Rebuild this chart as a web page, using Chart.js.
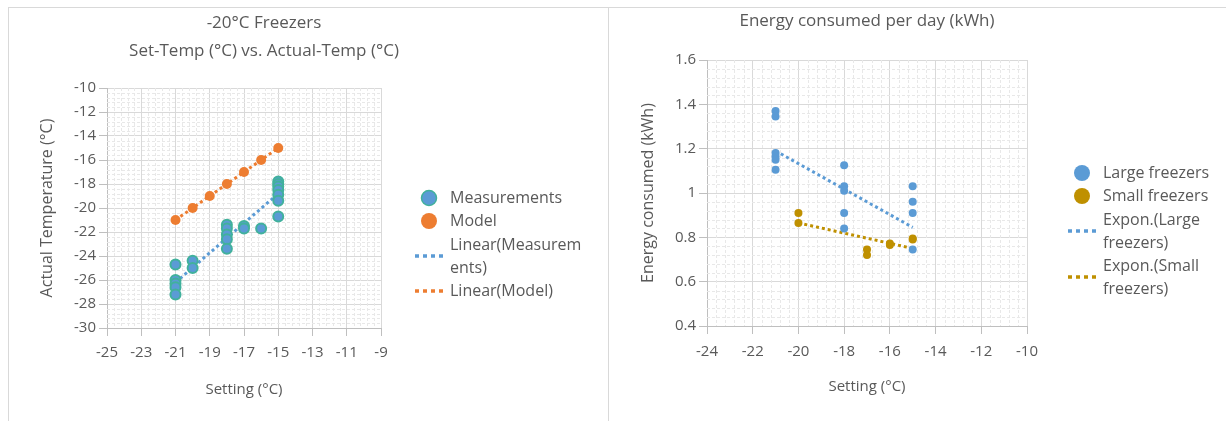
<!DOCTYPE html>
<html>
<head>
<meta charset="utf-8">
<script src="https://cdn.jsdelivr.net/npm/chart.js@4.4.1/dist/chart.umd.min.js"></script>
<style>
  body { margin: 0; background: #fff; width: 1226px; height: 421px; overflow: hidden; position: relative;
         font-family: 'Open Sans', sans-serif; color: #595959; }
  .panel { position: absolute; top: 7px; height: 414px; border-left: 1px solid #d9d9d9; border-top: 1px solid #d9d9d9; }
  #leftPanel { left: 8px; width: 599px; }
  #rightPanel { left: 608px; width: 618px; }
  canvas { position: absolute; left: 0; top: 0; }
  .title { position: absolute; left: 0; top: 0; width: 510px; text-align: center; font-size: 17px; line-height: 28px; }
  .legend { position: absolute; font-size: 16px; line-height: 23.3px; }
  .item { display: flex; align-items: center; }
  .mark { width: 28px; margin-right: 7px; display: flex; justify-content: center; align-items: center; }
  .mark svg { display: block; }
</style>
</head>
<body>
<div class="panel" id="leftPanel">
  <canvas id="tempChart" width="598" height="413"></canvas>
  <div class="title">-20°C Freezers<br>Set-Temp (°C) vs. Actual-Temp (°C)</div>
  <div class="legend" id="tempLegend" style="left:406px; top:178px"></div>
</div>
<div class="panel" id="rightPanel">
  <canvas id="energyChart" width="617" height="413"></canvas>
  <div class="legend" id="energyLegend" style="left:459px; top:153px"></div>
</div>
<script>
// left chart: set temperature vs actual temperature
const tempXTicks = [-25, -23, -21, -19, -17, -15, -13, -11, -9];
const tempYTicks = [-30, -28, -26, -24, -22, -20, -18, -16, -14, -12, -10];
const measSet = [-21, -21, -21, -21, -21, -20, -20, -18, -18, -18, -18, -18, -17, -17, -16, -15, -15, -15, -15, -15, -15, -15];
const measActual = [-24.7, -26.0, -26.3, -26.6, -27.2, -24.4, -25.0, -21.4, -21.7, -22.2, -22.6, -23.4, -21.5, -21.7, -21.7, -17.8, -18.0, -18.2, -18.5, -18.9, -19.4, -20.7];
const modelSet = [-21, -20, -19, -18, -17, -16, -15];
const modelActual = [-21, -20, -19, -18, -17, -16, -15];
const measTrendX = [-21, -15];
const measTrendY = [-26.2, -18.8];
const modelTrendX = [-21, -15];
const modelTrendY = [-21, -15];

// right chart: energy consumed per day
const energyXTicks = [-24, -22, -20, -18, -16, -14, -12, -10];
const energyYTicks = [0.4, 0.6, 0.8, 1, 1.2, 1.4, 1.6];
const largeSet = [-21, -21, -21, -21, -21, -21, -18, -18, -18, -18, -18, -15, -15, -15, -15];
const largeKwh = [1.37, 1.345, 1.18, 1.165, 1.15, 1.105, 1.125, 1.03, 1.01, 0.91, 0.84, 1.03, 0.96, 0.91, 0.745];
const smallSet = [-20, -20, -17, -17, -16, -16, -15, -15];
const smallKwh = [0.91, 0.865, 0.745, 0.72, 0.772, 0.765, 0.795, 0.79];
const largeTrendX = [-21, -15];
const largeTrendY = [1.19, 0.845];
const smallTrendX = [-20, -15];
const smallTrendY = [0.865, 0.75];

const BLUE = '#5B9BD5', TEAL = '#41B19C', ORANGE = '#ED7D31', GOLD = '#BF9000';

Chart.defaults.font.family = "'Open Sans', sans-serif";
Chart.defaults.color = '#595959';

const pts = (xs, ys) => xs.map((x, i) => ({x: x, y: ys[i]}));

function axis(ticks, title, size, tickPad, titlePad, isX) {
  return {
    type: 'linear',
    min: ticks[0],
    max: ticks[ticks.length - 1],
    afterBuildTicks: s => { s.ticks = ticks.map(v => ({value: v})); },
    afterFit: s => { if (isX) s.height = size; else s.width = size; },
    ticks: { callback: v => String(v), font: {size: 15}, padding: tickPad, autoSkip: false, maxRotation: 0 },
    grid: { color: '#d9d9d9', tickColor: '#bfbfbf', tickLength: 8 },
    border: { color: '#bfbfbf' },
    title: { display: true, text: title, font: {size: isX ? 15 : 16}, padding: titlePad }
  };
}

// light dashed minor grid, 5 divisions between major ticks
const minorGrid = {
  id: 'minorGrid',
  beforeDatasetsDraw(chart) {
    const {ctx, chartArea: a} = chart;
    ctx.save();
    ctx.strokeStyle = '#e8e8e8';
    ctx.lineWidth = 1;
    ctx.setLineDash([3, 2]);
    ['x', 'y'].forEach(id => {
      const s = chart.scales[id];
      const t = s.ticks;
      for (let i = 0; i < t.length - 1; i++) {
        for (let k = 1; k < 5; k++) {
          const v = t[i].value + (t[i + 1].value - t[i].value) * k / 5;
          const p = Math.round(s.getPixelForValue(v)) + 0.5;
          ctx.beginPath();
          if (id === 'x') { ctx.moveTo(p, a.top); ctx.lineTo(p, a.bottom); }
          else { ctx.moveTo(a.left, p); ctx.lineTo(a.right, p); }
          ctx.stroke();
        }
      }
    });
    ctx.restore();
  }
};

function dots(label, data, color, border, r) {
  return { label: label, data: data, backgroundColor: color, borderColor: border || color,
           borderWidth: border ? 2 : 0, pointRadius: r, pointHoverRadius: r };
}
function trend(label, data, color) {
  return { label: label, data: data, showLine: true, borderColor: color, borderWidth: 3,
           borderDash: [3, 3], pointRadius: 0, fill: false };
}

function buildLegend(el, items) {
  items.forEach(it => {
    const row = document.createElement('div');
    row.className = 'item';
    const svg = it.line
      ? `<svg width="28" height="6"><line x1="0" y1="3" x2="28" y2="3" stroke="${it.color}" stroke-width="3.5" stroke-dasharray="4 4"/></svg>`
      : `<svg width="18" height="18"><circle cx="9" cy="9" r="${it.border ? 7.5 : 8}" fill="${it.color}"${it.border ? ` stroke="${it.border}" stroke-width="1.5"` : ''}/></svg>`;
    row.innerHTML = `<span class="mark">${svg}</span><span>${it.text.join('<br>')}</span>`;
    el.appendChild(row);
  });
}

new Chart(document.querySelector('#tempChart').getContext('2d'), {
  type: 'scatter',
  data: {
    datasets: [
      dots('Measurements', pts(measSet, measActual), BLUE, TEAL, 5),
      dots('Model', pts(modelSet, modelActual), ORANGE, null, 5),
      trend('Linear(Measurements)', pts(measTrendX, measTrendY), BLUE),
      trend('Linear(Model)', pts(modelTrendX, modelTrendY), ORANGE)
    ]
  },
  options: {
    responsive: false,
    animation: false,
    devicePixelRatio: 1,
    layout: { padding: {top: 80, right: 226, left: 0, bottom: 0} },
    scales: {
      x: axis(tempXTicks, 'Setting (°C)', 93, 8, {top: 0, bottom: 22}, true),
      y: axis(tempYTicks, 'Actual Temperature (°C)', 98, 3, {top: 29, bottom: 0}, false)
    },
    plugins: { legend: {display: false}, tooltip: {enabled: false} }
  },
  plugins: [minorGrid]
});

new Chart(document.querySelector('#energyChart').getContext('2d'), {
  type: 'scatter',
  data: {
    datasets: [
      dots('Large freezers', pts(largeSet, largeKwh), BLUE, null, 4),
      dots('Small freezers', pts(smallSet, smallKwh), GOLD, null, 4),
      trend('Expon.(Large freezers)', pts(largeTrendX, largeTrendY), BLUE),
      trend('Expon.(Small freezers)', pts(smallTrendX, smallTrendY), GOLD)
    ]
  },
  options: {
    responsive: false,
    animation: false,
    devicePixelRatio: 1,
    layout: { padding: {top: 0, right: 199, left: 0, bottom: 0} },
    scales: {
      x: axis(energyXTicks, 'Setting (°C)', 95, 9, {top: 0, bottom: 25}, true),
      y: axis(energyYTicks, 'Energy consumed (kWh)', 98, 3, {top: 30, bottom: 0}, false)
    },
    plugins: {
      legend: {display: false},
      tooltip: {enabled: false},
      title: { display: true, text: 'Energy consumed per day (kWh)', fullSize: false,
               font: {size: 17, weight: 'normal', lineHeight: '26px'}, padding: {top: 0, bottom: 26} }
    }
  },
  plugins: [minorGrid]
});

buildLegend(document.querySelector('#tempLegend'), [
  {text: ['Measurements'], color: BLUE, border: TEAL},
  {text: ['Model'], color: ORANGE},
  {text: ['Linear(Measurem', 'ents)'], color: BLUE, line: true},
  {text: ['Linear(Model)'], color: ORANGE, line: true}
]);
buildLegend(document.querySelector('#energyLegend'), [
  {text: ['Large freezers'], color: BLUE},
  {text: ['Small freezers'], color: GOLD},
  {text: ['Expon.(Large', 'freezers)'], color: BLUE, line: true},
  {text: ['Expon.(Small', 'freezers)'], color: GOLD, line: true}
]);
</script>
</body>
</html>
